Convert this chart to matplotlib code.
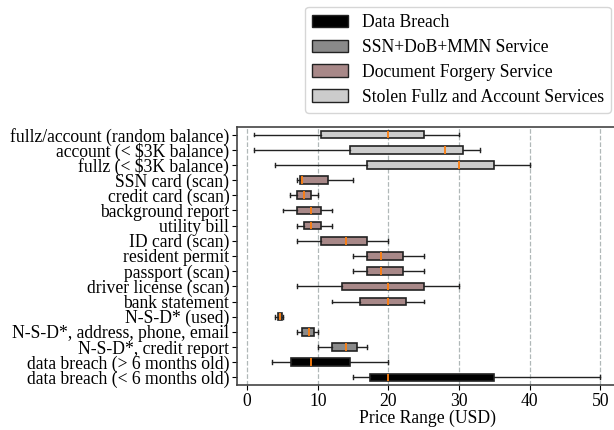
import matplotlib
matplotlib.use("Agg")
import matplotlib.pyplot as plt
from matplotlib.patches import Patch

plt.rcParams['font.family'] = ['Liberation Serif', 'DejaVu Serif']
plt.rcParams['font.size'] = 12.7

# rows listed bottom to top
labels = [
    "data breach (< 6 months old)",
    "data breach (> 6 months old)",
    "N-S-D*, credit report",
    "N-S-D*, address, phone, email",
    "N-S-D* (used)",
    "bank statement",
    "driver license (scan)",
    "passport (scan)",
    "resident permit",
    "ID card (scan)",
    "utility bill",
    "background report",
    "credit card (scan)",
    "SSN card (scan)",
    "fullz (< $3K balance)",
    "account (< $3K balance)",
    "fullz/account (random balance)",
]
whislo = [15, 3.5, 10, 7, 4, 12, 7, 15, 15, 7, 7, 5, 6, 7, 4, 1, 1]
q1     = [17.4, 6.2, 12, 7.8, 4.3, 16, 13.4, 17, 17, 10.5, 8, 7, 7, 7.4, 17, 14.5, 10.5]
med    = [20, 9, 14, 8.8, 4.6, 20, 20, 19, 19, 14, 9, 9, 8, 7.8, 30, 28, 20]
q3     = [35, 14.5, 15.5, 9.4, 4.9, 22.5, 25, 22, 22, 17, 10.5, 10.5, 9, 11.5, 35, 30.5, 25]
whishi = [50, 20, 17, 10, 5.1, 25, 30, 25, 25, 20, 12, 12, 10, 15, 40, 33, 30]
group  = [0, 0, 1, 1, 1, 2, 2, 2, 2, 2, 2, 2, 2, 2, 3, 3, 3]

group_names = ["Data Breach", "SSN+DoB+MMN Service",
               "Document Forgery Service", "Stolen Fullz and Account Services"]
group_colors = ["#000000", "#8a8a8a", "#a88888", "#cccccc"]

stats = []
for i in range(len(labels)):
    stats.append(dict(label=labels[i], whislo=whislo[i], q1=q1[i], med=med[i],
                      q3=q3[i], whishi=whishi[i], fliers=[]))

fig = plt.figure(figsize=(6.14, 4.30), dpi=100)
ax = fig.add_axes([0.386, 0.1047, 0.62, 0.600])

bp = ax.bxp(stats, vert=False, patch_artist=True, showfliers=False,
            widths=0.5,
            boxprops=dict(edgecolor="#222222", linewidth=1.2),
            medianprops=dict(color="#ff7f0e", linewidth=1.3),
            whiskerprops=dict(color="#222222", linewidth=1.0),
            capprops=dict(color="#222222", linewidth=1.0))
for box, g in zip(bp['boxes'], group):
    box.set_facecolor(group_colors[g])

ax.set_xlim(-1.45, 52.45)
ax.set_ylim(0.5, len(labels) + 0.5)
ax.set_xticks([0, 10, 20, 30, 40, 50])
ax.xaxis.grid(True, linestyle='--', color='#b0b8b8', linewidth=0.9)
ax.set_axisbelow(True)
ax.set_xlabel("Price Range (USD)", labelpad=0)
ax.tick_params(axis='y', pad=2, length=3.5)
ax.tick_params(axis='x', pad=2, length=3.5)
for s in ax.spines.values():
    s.set_color("#444444")
    s.set_linewidth(1.2)

handles = [Patch(facecolor=group_colors[i], edgecolor="#222222", label=group_names[i])
           for i in range(4)]
fig.legend(handles=handles, loc='upper right', bbox_to_anchor=(0.995, 0.984),
           borderaxespad=0.0,
           frameon=True, fancybox=True, edgecolor="#cccccc", fontsize=12.7,
           borderpad=0.4, labelspacing=0.45, handlelength=2.0)

fig.savefig("out.png", dpi=100)
